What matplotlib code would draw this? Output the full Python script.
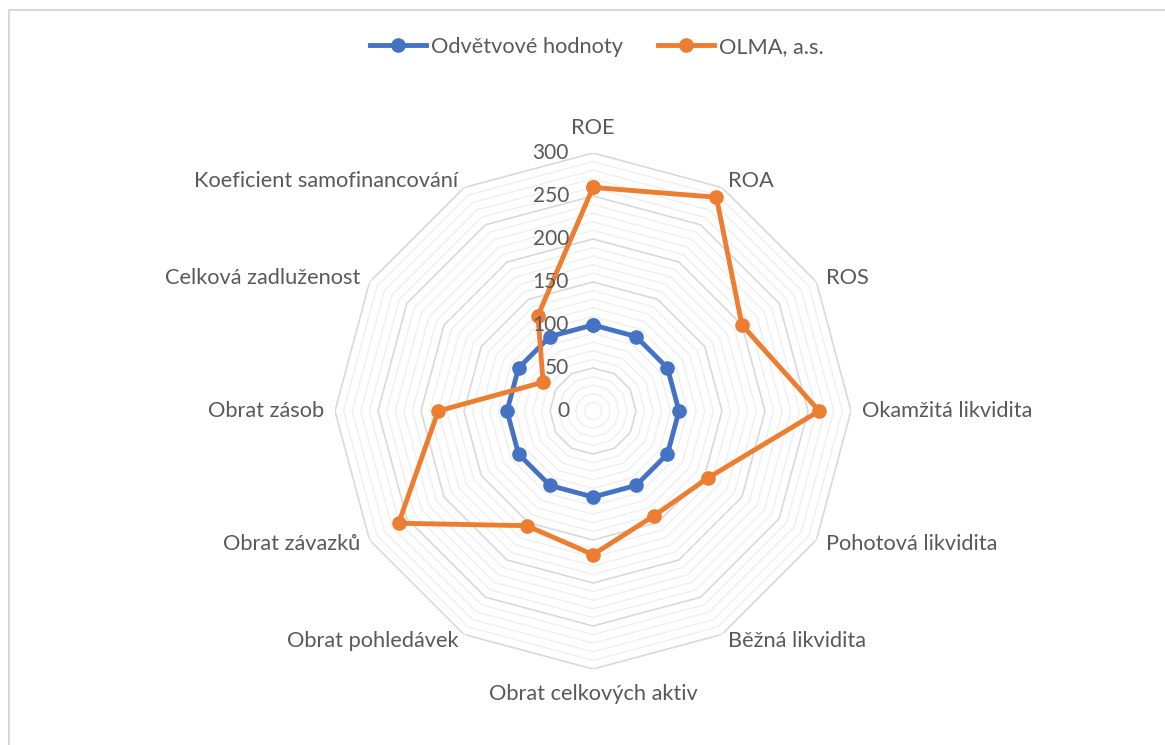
import numpy as np
import matplotlib
matplotlib.use("Agg")
import matplotlib.pyplot as plt
from matplotlib.lines import Line2D

plt.rcParams['font.family'] = ['Lato', 'DejaVu Sans']

# --- data ---
categories = ["ROE", "ROA", "ROS", "Okamžitá likvidita", "Pohotová likvidita",
              "Běžná likvidita", "Obrat celkových aktiv", "Obrat pohledávek",
              "Obrat závazků", "Obrat zásob", "Celková zadluženost",
              "Koeficient samofinancování"]
industry = [100, 100, 100, 100, 100, 100, 100, 100, 100, 100, 100, 100]
olma = [260, 287, 200, 263, 155, 141, 167, 154, 261, 180, 67, 128]
series_names = ["Odvětvové hodnoty", "OLMA, a.s."]
r_ticks = [0, 50, 100, 150, 200, 250, 300]

BLUE = "#4472C4"
ORANGE = "#ED7D31"
TXT = "#595959"
FS = 15.7

W, H = 1165, 745
fig = plt.figure(figsize=(W / 100, H / 100), dpi=100)
cx, cy, R = 593, 411, 258
ax = fig.add_axes([(cx - R) / W, (H - cy - R) / H, 2 * R / W, 2 * R / H],
                  projection="polar")
ax.set_theta_zero_location("N")
ax.set_theta_direction(-1)
ax.set_ylim(0, 300)
ax.grid(False)
ax.set_xticks([])
ax.set_yticks([])
ax.spines["polar"].set_visible(False)
ax.patch.set_alpha(0)

n = len(categories)
angles = np.arange(n) * 2 * np.pi / n
closed = np.append(angles, angles[0])

# polygon grid: minor rings every 10, major every 50
for r in range(10, 301, 10):
    if r % 50 == 0:
        continue
    ax.plot(closed, [r] * (n + 1), color="#EFEFEF", lw=1.0, zorder=1)
for r in r_ticks[1:]:
    ax.plot(closed, [r] * (n + 1), color="#D9D9D9", lw=1.2, zorder=2)

def closed_vals(v):
    return list(v) + [v[0]]

ax.plot(closed, closed_vals(industry), color=BLUE, lw=3.5, marker="o",
        markersize=9.5, zorder=4, label=series_names[0])
ax.plot(closed, closed_vals(olma), color=ORANGE, lw=3.5, marker="o",
        markersize=9.5, zorder=5, label=series_names[1])

# radial tick labels
for r in r_ticks:
    ax.annotate(str(r), xy=(0, r), xytext=(-24, 0), textcoords="offset pixels",
                ha="right", va="center", fontsize=15, color=TXT, zorder=6)

# category labels
for a, name in zip(angles, categories):
    s, c = np.sin(a), np.cos(a)
    if abs(s) < 0.1:
        ha = "center"
        off = (0, 25 if c > 0 else -25)
    else:
        ha = "left" if s > 0 else "right"
        off = (11 * s, 8 * c)
    ax.annotate(name, xy=(a, 300), xytext=off, textcoords="offset pixels",
                ha=ha, va="center", fontsize=FS, color=TXT)

leg = fig.legend(loc="center", bbox_to_anchor=(597 / W, 1 - 47 / H), ncol=2,
                 frameon=False, fontsize=FS, handlelength=2.55, columnspacing=1.6,
                 handletextpad=0.25)
for t in leg.get_texts():
    t.set_color(TXT)

# chart border (left and top edges visible)
fig.add_artist(Line2D([9 / W, 9 / W, 1.0], [0.0, 1 - 10 / H, 1 - 10 / H],
                      transform=fig.transFigure, color="#D9D9D9", lw=1.5))

fig.savefig("out.png", dpi=100, facecolor="white")
